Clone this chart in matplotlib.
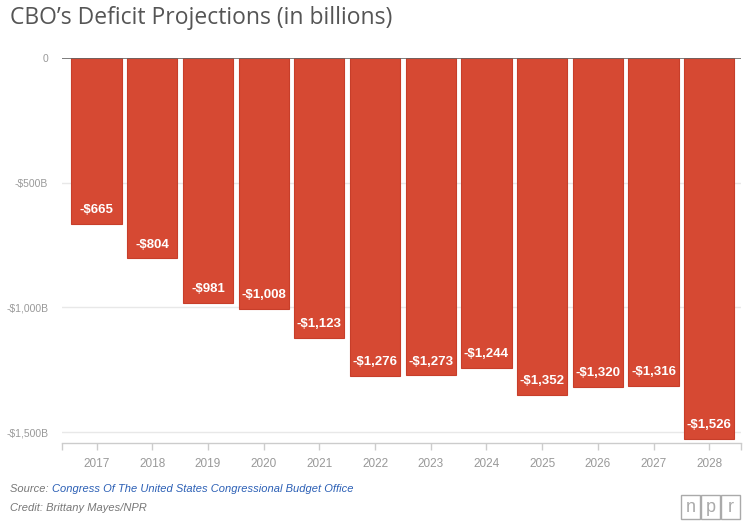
import matplotlib
matplotlib.use("Agg")
import matplotlib.pyplot as plt
from matplotlib.patches import Rectangle

# data (billions of dollars)
years = ["2017", "2018", "2019", "2020", "2021", "2022",
         "2023", "2024", "2025", "2026", "2027", "2028"]
deficits = [-665, -804, -981, -1008, -1123, -1276,
            -1273, -1244, -1352, -1320, -1316, -1526]
ytick_vals = [0, -500, -1000, -1500]
ytick_labels = ["0", "-$500B", "-$1,000B", "-$1,500B"]

BAR = "#d64933"
EDGE = "#c73e2a"
GREY = "#999999"

fig = plt.figure(figsize=(7.46, 5.25), dpi=100)
ax = fig.add_axes([62 / 746, 1 - 443 / 525, 679 / 746, 385 / 525])

x = list(range(len(years)))
ax.bar(x, deficits, width=0.9, color=BAR, edgecolor=EDGE, linewidth=0.8, zorder=3)

for xi, v in zip(x, deficits):
    ax.annotate(f"-${abs(v):,}", xy=(xi, v), xytext=(0, 10), textcoords="offset points",
                ha="center", va="center", color="white", fontsize=9.5,
                fontweight="bold", family="Liberation Sans", zorder=4)

ax.set_xlim(-0.62, 11.57)
ax.set_ylim(-1544, 0)

# gridlines and zero line
for v in ytick_vals[1:]:
    ax.axhline(v, color="#e8e8e8", linewidth=1.0, zorder=1)
ax.axhline(0, color="#666666", linewidth=1.2, zorder=5)

ax.set_yticks(ytick_vals)
ax.set_yticklabels(ytick_labels, family="Liberation Sans", fontsize=7.5, color=GREY)
ax.tick_params(axis="y", length=0, pad=10)

ax.set_xticks(x)
ax.set_xticklabels(years, family="Liberation Sans", fontsize=8.5, color=GREY)
ax.set_xticks([-0.62, 11.57], minor=True)
ax.tick_params(axis="x", which="both", length=5, color="#cccccc", width=1, pad=6)

for side in ["top", "left", "right"]:
    ax.spines[side].set_visible(False)
ax.spines["bottom"].set_color("#cccccc")
ax.spines["bottom"].set_linewidth(1)

fig.text(10 / 746, 1 - 18 / 525, "CBO\u2019s Deficit Projections (in billions)",
         family="Open Sans", fontsize=16.5, color="#555555", ha="left", va="center")

fig.text(10 / 746, 1 - 489 / 525, "Source: ", family="Liberation Sans", style="italic",
         fontsize=8, color="#777777", ha="left", va="center")
fig.text(52 / 746, 1 - 489 / 525, "Congress Of The United States Congressional Budget Office",
         family="Liberation Sans", style="italic", fontsize=8, color="#2b5fb5",
         ha="left", va="center")
fig.text(10 / 746, 1 - 508 / 525, "Credit: Brittany Mayes/NPR", family="Liberation Sans",
         style="italic", fontsize=8, color="#777777", ha="left", va="center")

# npr logo boxes
for i, letter in enumerate("npr"):
    x0 = (681 + i * 20) / 746
    fig.add_artist(Rectangle((x0, 1 - 519 / 525), 19 / 746, 24 / 525,
                             transform=fig.transFigure, fill=False,
                             edgecolor="#aaaaaa", linewidth=1))
    fig.text(x0 + 9.5 / 746, 1 - 507 / 525, letter, family="Liberation Sans",
             fontsize=13, color="#aaaaaa", ha="center", va="center")

fig.savefig("out.png", dpi=100)
